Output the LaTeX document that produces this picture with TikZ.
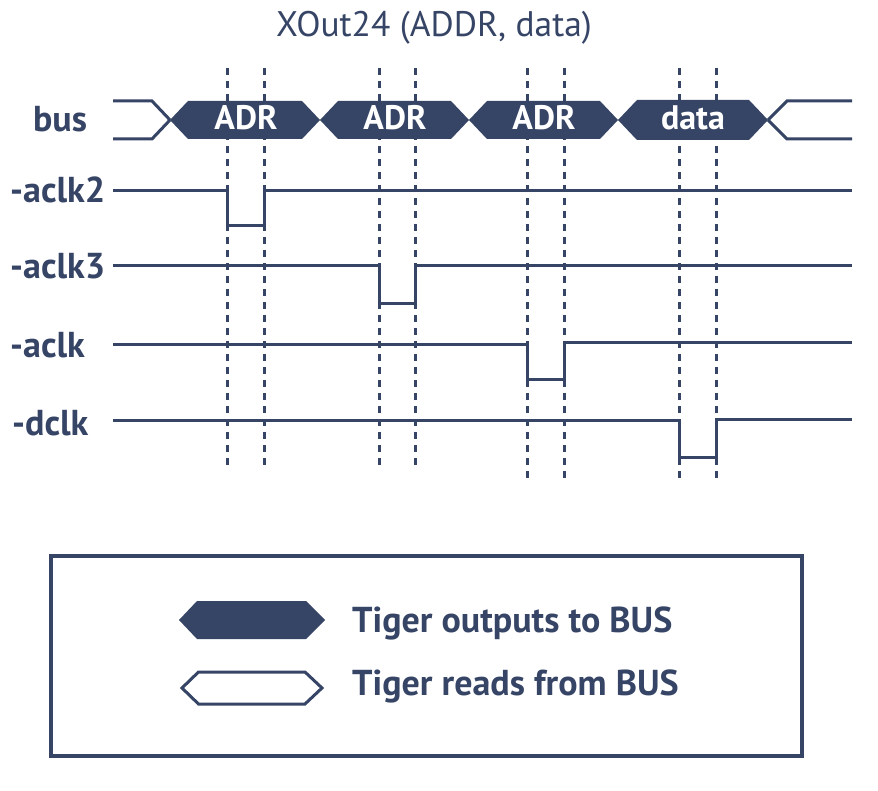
\documentclass[tikz,border=0pt]{standalone}
\usepackage{fontspec}
\setmainfont{PT Sans}
\definecolor{navy}{RGB}{54,68,102}
\begin{document}
\begin{tikzpicture}[x=1pt,y=-1pt,
  lbl/.style={font=\fontsize{36}{40}\selectfont\bfseries, text=navy, inner sep=0pt, anchor=base west},
  hextxt/.style={font=\fontsize{34}{40}\selectfont\bfseries, text=white, inner sep=0pt, anchor=base},
  ttl/.style={font=\fontsize{35.5}{40}\selectfont, text=navy, inner sep=0pt, anchor=base},
  sig/.style={draw=navy, line width=3pt},
  guide/.style={draw=navy, line width=3pt, dash pattern=on 7pt off 6pt},
  busfill/.style={fill=navy, draw=none},
  busopen/.style={draw=navy, line width=3pt, line join=miter}]
\useasboundingbox (0,0) rectangle (878,791);
\fill[white] (0,0) rectangle (878,791);

% title
\node[ttl] (title) at (434,37) {XOut24 (ADDR, data)};

% dashed guide lines
\foreach \x in {227,264,379,415}{\draw[guide] (\x,68) -- (\x,468);}
\foreach \x in {527,564,679,716}{\draw[guide] (\x,68) -- (\x,479);}

% bus
\draw[busopen] (113,101) -- (152,101) -- (170,120);
\draw[busopen] (113,139) -- (152,139) -- (170,120);
\fill[busfill] (170,120) -- (188,101) -- (302,101) -- (320,120) -- (302,139) -- (188,139) -- cycle;
\fill[busfill] (320,120) -- (338,101) -- (451,101) -- (469,120) -- (451,139) -- (338,139) -- cycle;
\fill[busfill] (469,120) -- (487,101) -- (600,101) -- (618,120) -- (600,139) -- (487,139) -- cycle;
\fill[busfill] (618,120) -- (637,100) -- (749,100) -- (768,120) -- (749,140) -- (637,140) -- cycle;
\draw[busopen] (768,120) -- (787,101) -- (852,101);
\draw[busopen] (768,120) -- (787,139) -- (852,139);
\node[hextxt] (h1) at (246,130) {ADR};
\node[hextxt] (h2) at (395,130) {ADR};
\node[hextxt] (h3) at (544,130) {ADR};
\node[hextxt] (h4) at (693,130) {data};

% labels
\node[lbl] (lbus) at (33,132) {bus};
\node[lbl] (l2) at (10,203) {-aclk2};
\node[lbl] (l3) at (10,279) {-aclk3};
\node[lbl] (l1) at (10,358) {-aclk};
\node[lbl] (ld) at (12,435) {-dclk};

% signals
\draw[sig] (113,190.5) -- (227,190.5) -- (227,226) -- (264,226) -- (264,190.5) -- (852,190.5);
\draw[sig] (113,266) -- (379,266) -- (379,304) -- (415,304) -- (415,266) -- (852,266);
\draw[sig] (113,345) -- (527,345) -- (527,380) -- (564,380) -- (564,343) -- (852,343);
\draw[sig] (113,420.5) -- (679,420.5) -- (679,457) -- (716,457) -- (716,419) -- (852,419);

% legend
\draw[navy, line width=4pt] (50.5,556) rectangle (802,755.5);
\fill[busfill] (179,620) -- (197,601) -- (306,601) -- (325,620) -- (306,639) -- (197,639) -- cycle;
\draw[navy, line width=3pt] (182,688) -- (198.5,672) -- (305,672) -- (322,688) -- (305,704) -- (198.5,704) -- cycle;
\node[lbl] (lo) at (352,632) {Tiger outputs to BUS};
\node[lbl] (lr) at (352,695) {Tiger reads from BUS};
\end{tikzpicture}
\end{document}
